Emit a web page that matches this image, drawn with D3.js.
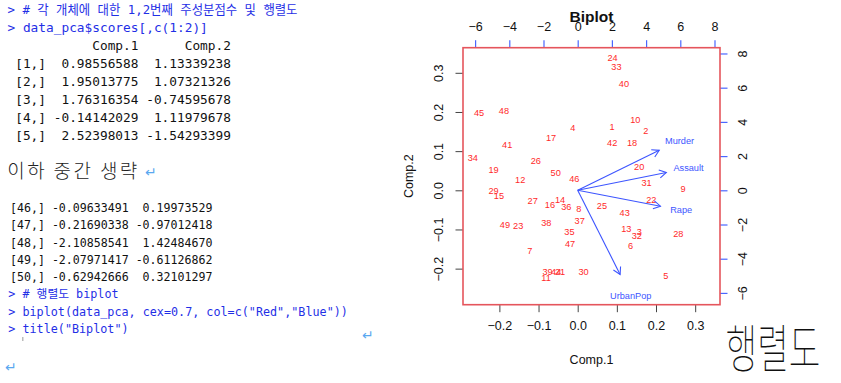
<!DOCTYPE html>
<html><head><meta charset="utf-8">
<script src="https://cdn.jsdelivr.net/npm/d3@7"></script>
<style>
html,body{margin:0;padding:0;background:#fff;}
svg{display:block;}
</style></head>
<body>
<svg id="chart" width="841" height="383"></svg>
<script>
// ---------- data ----------
const stateIds = ["1","2","3","4","5","6","7","8","9","10","11","12","13","14","15","16","17","18","19","20",
  "21","22","23","24","25","26","27","28","29","30","31","32","33","34","35","36","37","38","39","40",
  "41","42","43","44","45","46","47","48","49","50"];
const comp1 = [0.0880,0.1741,0.1574,-0.0126,0.2253,0.135,-0.122,0.003,0.269,0.147,
  -0.081,-0.147,0.124,-0.045,-0.201,-0.071,-0.068,0.139,-0.215,0.157,
  -0.045,0.188,-0.152,0.089,0.062,-0.107,-0.115,0.257,-0.215,0.015,
  0.176,0.151,0.099,-0.268,-0.021,-0.029,0.005,-0.080,-0.077,0.118,
  -0.180,0.088,0.120,-0.055,-0.252,-0.0086,-0.0194,-0.1883,-0.1857,-0.0562];
const comp2 = [0.1610,0.1524,-0.1060,0.1591,-0.2192,-0.141,-0.155,-0.047,0.005,0.179,
  -0.224,0.028,-0.098,-0.023,-0.015,-0.038,0.135,0.122,0.052,0.059,
  -0.208,-0.023,-0.090,0.339,-0.039,0.075,-0.027,-0.111,-0.002,-0.207,
  0.020,-0.117,0.315,0.084,-0.106,-0.042,-0.078,-0.082,-0.209,0.273,
  0.116,0.121,-0.058,-0.208,0.198,0.0284,-0.1378,0.2024,-0.0868,0.0456];
const varNames = ["Murder","Assault","UrbanPop","Rape"];
const loadX = [5.96, 6.48, 3.10, 6.05];
const loadY = [2.92, 1.30, -6.15, -1.16];
const scoreTicks = [-0.2,-0.1,0.0,0.1,0.2,0.3];
const loadTicks = [-6,-4,-2,0,2,4,6,8];
const xlim = [-0.2929, 0.3634];
const ylim = [-0.2921, 0.3641];
const loadRatio = 22.9;

const consoleTop = [
  {t:"> # 각 개체에 대한 1,2번째 주성분점수 및 행렬도", c:"blue"},
  {t:"> data_pca$scores[,c(1:2)]", c:"blue"},
  {t:"           Comp.1      Comp.2", c:"black"},
  {t:" [1,]  0.98556588  1.13339238", c:"black"},
  {t:" [2,]  1.95013775  1.07321326", c:"black"},
  {t:" [3,]  1.76316354 -0.74595678", c:"black"},
  {t:" [4,] -0.14142029  1.11979678", c:"black"},
  {t:" [5,]  2.52398013 -1.54293399", c:"black"}
];
const consoleMid = [
  "[46,] -0.09633491  0.19973529",
  "[47,] -0.21690338 -0.97012418",
  "[48,] -2.10858541  1.42484670",
  "[49,] -2.07971417 -0.61126862",
  "[50,] -0.62942666  0.32101297"
];
const consoleEnd = [
  "> # 행렬도 biplot",
  "> biplot(data_pca, cex=0.7, col=c(\"Red\",\"Blue\"))",
  "> title(\"Biplot\")"
];

// ---------- drawing ----------
const svg = d3.select("#chart");
const BLUE_TXT = "#1f2fe6";
const mono = "'DejaVu Sans Mono', 'Noto Sans CJK KR', monospace";
const sans = "'Liberation Sans', Arial, sans-serif";

// console block 1
svg.append("g").selectAll("text").data(consoleTop).join("text")
  .attr("x", 7.5).attr("y", (d,i) => 10 + i*17.9).attr("dy","0.35em")
  .attr("font-family", mono).attr("font-size", 12.8)
  .attr("fill", d => d.c === "blue" ? BLUE_TXT : "#111")
  .style("white-space","pre")
  .each(function(d,i){ if(i===0){ d3.select(this).attr("textLength", 290).attr("lengthAdjust","spacingAndGlyphs"); } })
  .text(d => d.t);

// omitted note
svg.append("text").attr("x", 7.3).attr("y", 171.7).attr("dy","0.35em")
  .attr("font-family","'Noto Sans CJK KR', sans-serif").attr("font-weight", 300)
  .attr("font-size", 19).attr("fill","#222")
  .attr("textLength", 130).attr("lengthAdjust","spacing")
  .text("이하 중간 생략");
svg.append("text").attr("x", 145).attr("y", 171.7).attr("dy","0.35em")
  .attr("font-family","'DejaVu Sans', sans-serif").attr("font-size", 14).attr("fill","#5aa8f0").text("↵");

// console block 2
svg.append("g").selectAll("text").data(consoleMid).join("text")
  .attr("x", 10).attr("y", (d,i) => 208.3 + i*17.1).attr("dy","0.35em")
  .attr("font-family", mono).attr("font-size", 11.6).attr("fill","#111")
  .style("white-space","pre").text(d => d);

svg.append("g").selectAll("text").data(consoleEnd).join("text")
  .attr("x", 8.3).attr("y", (d,i) => 294 + i*17.6).attr("dy","0.35em")
  .attr("font-family", mono).attr("font-size", 11.75).attr("fill", BLUE_TXT)
  .style("white-space","pre").text(d => d);

svg.append("rect").attr("x",22).attr("y",337).attr("width",1.5).attr("height",4).attr("fill","#bbb");
svg.append("text").attr("x", 362).attr("y", 335).attr("dy","0.35em")
  .attr("font-family","'DejaVu Sans', sans-serif").attr("font-size", 14).attr("fill","#5aa8f0").text("↵");
svg.append("text").attr("x", 5).attr("y", 366.7).attr("dy","0.35em")
  .attr("font-family","'DejaVu Sans', sans-serif").attr("font-size", 14).attr("fill","#5aa8f0").text("↵");

// ---------- biplot ----------
const L = 463, R = 720, T = 47.7, B = 304.7;
const x = d3.scaleLinear().domain(xlim).range([L, R]);
const y = d3.scaleLinear().domain(ylim).range([B, T]);
const x2 = d3.scaleLinear().domain(xlim.map(v => v*loadRatio)).range([L, R]);
const y2 = d3.scaleLinear().domain(ylim.map(v => v*loadRatio)).range([B, T]);

const tickLen = 7.5;
const gB = svg.append("g").attr("transform", `translate(0,${B})`)
  .call(d3.axisBottom(x).tickValues(scoreTicks).tickFormat(d3.format(".1f")).tickSize(tickLen).tickPadding(9));
const gL = svg.append("g").attr("transform", `translate(${L},0)`)
  .call(d3.axisLeft(y).tickValues(scoreTicks).tickFormat(d3.format(".1f")).tickSize(tickLen));
const gT = svg.append("g").attr("transform", `translate(0,${T})`)
  .call(d3.axisTop(x2).tickValues(loadTicks).tickFormat(d3.format("d")).tickSize(tickLen).tickPadding(9));
const gR = svg.append("g").attr("transform", `translate(${R},0)`)
  .call(d3.axisRight(y2).tickValues(loadTicks).tickFormat(d3.format("d")).tickSize(tickLen));

[gB,gL,gT,gR].forEach(g => {
  g.select(".domain").remove();
  g.selectAll("text").attr("font-family", sans).attr("font-size", 12.5).attr("fill","#111");
});
gB.selectAll(".tick line").attr("stroke","#444");
gL.selectAll(".tick line").attr("stroke","#444");
gT.selectAll(".tick line").attr("stroke","#4a66ff").attr("stroke-width",1.2);
gR.selectAll(".tick line").attr("stroke","#4a66ff").attr("stroke-width",1.2);

gL.selectAll(".tick text").attr("x", null).attr("dy", null)
  .attr("text-anchor","middle").attr("transform","translate(-24,0) rotate(-90)").attr("dy","0.35em");
gR.selectAll(".tick text").attr("x", null).attr("dy", null)
  .attr("text-anchor","middle").attr("transform","translate(23,0) rotate(-90)").attr("dy","0.35em");

// box
svg.append("rect").attr("x", L).attr("y", T).attr("width", R-L).attr("height", B-T)
  .attr("fill","none").attr("stroke","#e5555c").attr("stroke-width",1.6);

// point labels
svg.append("g").selectAll("text").data(stateIds).join("text")
  .attr("x", (d,i) => x(comp1[i])).attr("y", (d,i) => y(comp2[i])).attr("dy","0.35em")
  .attr("text-anchor","middle").attr("font-family", sans).attr("font-size", 9.2)
  .attr("fill","#ff2a2a").text(d => d);

// arrows
const ARROW = "#3d55ff";
const ag = svg.append("g");
const ox = x2(0), oy = y2(0);
varNames.forEach((name, i) => {
  const tx = x2(loadX[i]*0.8), ty = y2(loadY[i]*0.8);
  ag.append("line").attr("x1", ox).attr("y1", oy).attr("x2", tx).attr("y2", ty)
    .attr("stroke", ARROW).attr("stroke-width", 1.1);
  const ang = Math.atan2(ty-oy, tx-ox), hl = 8, ha = Math.PI/6;
  const p1 = [tx - hl*Math.cos(ang-ha), ty - hl*Math.sin(ang-ha)];
  const p2 = [tx - hl*Math.cos(ang+ha), ty - hl*Math.sin(ang+ha)];
  ag.append("path").attr("d", `M${p1[0]},${p1[1]}L${tx},${ty}L${p2[0]},${p2[1]}`)
    .attr("fill","none").attr("stroke", ARROW).attr("stroke-width", 1.1);
  ag.append("text").attr("x", x2(loadX[i])).attr("y", y2(loadY[i])).attr("dy","0.35em")
    .attr("text-anchor","middle").attr("font-family", sans).attr("font-size", 9.2)
    .attr("fill", ARROW).text(name);
});

// titles
svg.append("text").attr("x", (L+R)/2).attr("y", 17).attr("dy","0.35em").attr("text-anchor","middle")
  .attr("font-family", sans).attr("font-weight","bold").attr("font-size", 15.5).attr("fill","#111").text("Biplot");
svg.append("text").attr("x", (L+R)/2).attr("y", 360).attr("dy","0.35em").attr("text-anchor","middle")
  .attr("font-family", sans).attr("font-size", 12.5).attr("fill","#111").text("Comp.1");
svg.append("text").attr("transform", `translate(409,${(T+B)/2}) rotate(-90)`).attr("dy","0.35em")
  .attr("text-anchor","middle").attr("font-family", sans).attr("font-size", 12.5).attr("fill","#111").text("Comp.2");

// handwritten-style annotation
svg.append("text").attr("transform","translate(773,368) scale(0.86,1.3)").attr("text-anchor","middle")
  .attr("font-family","'Noto Sans CJK KR', sans-serif").attr("font-weight",100)
  .attr("font-size", 40).attr("fill","#111").text("행렬도");
</script>
</body></html>
